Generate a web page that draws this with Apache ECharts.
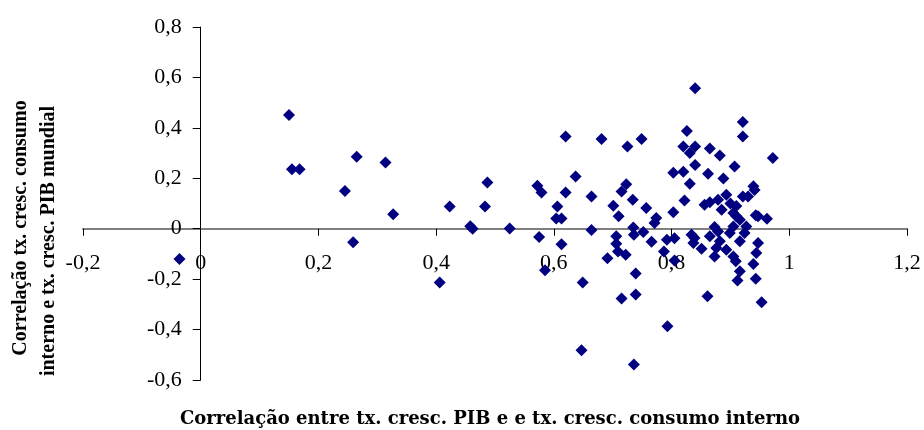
<!DOCTYPE html>
<html>
<head>
<meta charset="utf-8">
<script src="https://cdn.jsdelivr.net/npm/echarts@6/dist/echarts.min.js"></script>
<style>html,body{margin:0;padding:0;background:#fff}#c{width:924px;height:430px}</style>
</head>
<body>
<div id="c"></div>
<script>
// Correlation of GDP growth vs domestic consumption growth (x)
const xValues = [-0.036,0.150,0.155,0.168,0.245,0.265,0.259,0.314,0.327,0.423,0.406,0.458,0.462,0.487,0.483,0.525,0.572,0.579,0.575,0.585,
0.606,0.604,0.613,0.613,0.620,0.620,0.637,0.649,0.647,0.664,0.664,0.681,0.691,0.701,0.710,0.706,0.706,0.709,0.722,0.715,
0.723,0.725,0.734,0.735,0.736,0.752,0.739,0.715,0.739,0.736,0.749,0.757,0.774,0.771,0.766,0.792,0.805,0.787,0.805,0.793,
0.803,0.803,0.820,0.822,0.826,0.820,0.840,0.831,0.840,0.840,0.831,0.834,0.837,0.851,0.839,0.861,0.865,0.882,0.862,0.888,
0.907,0.921,0.921,0.972,0.939,0.941,0.930,0.856,0.879,0.893,0.921,0.885,0.905,0.910,0.916,0.927,0.905,0.873,0.865,0.879,
0.899,0.924,0.876,0.893,0.916,0.882,0.873,0.905,0.944,0.947,0.943,0.962,0.947,0.909,0.916,0.912,0.939,0.943,0.953,0.865,
0.900,0.910];
// Correlation of domestic consumption growth vs world GDP growth (y)
const yValues = [-0.120,0.451,0.236,0.236,0.150,0.285,-0.054,0.263,0.057,0.088,-0.213,0.010,0.000,0.183,0.088,0.001,0.170,0.144,-0.033,-0.165,
0.088,0.041,0.041,-0.062,0.144,0.366,0.207,-0.213,-0.482,0.128,-0.005,0.356,-0.117,0.091,0.049,-0.030,-0.060,-0.090,-0.103,0.148,
0.176,0.326,0.115,0.005,-0.024,-0.013,-0.178,-0.277,-0.261,-0.539,0.356,0.082,0.042,0.023,-0.052,-0.044,-0.038,-0.090,-0.126,-0.387,
0.065,0.222,0.226,0.112,0.388,0.326,0.326,0.300,0.557,0.253,0.178,-0.024,-0.057,-0.079,-0.037,-0.268,0.318,0.290,0.218,0.199,
0.247,0.423,0.366,0.280,0.168,0.154,0.128,0.095,0.115,0.135,0.128,0.075,0.062,0.049,0.036,0.009,0.009,0.007,-0.030,-0.011,
-0.017,-0.017,-0.076,-0.083,-0.050,-0.050,-0.110,-0.110,-0.096,-0.057,0.053,0.040,0.049,-0.129,-0.169,-0.205,-0.140,-0.198,-0.292,0.105,
0.100,0.090];
const xTitle = 'Correlação entre tx. cresc. PIB e e tx. cresc. consumo interno';
const yTitleLines = ['Correlação tx. cresc. consumo', 'interno e tx. cresc. PIB mundial'];

const xMin = -0.2, xMax = 1.2, yMin = -0.6, yMax = 0.8, step = 0.2;
const gridLeft = 83, gridRight = 17, gridTop = 27, gridBottom = 50;
const W = 924, H = 430;
const gridW = W - gridLeft - gridRight, gridH = H - gridTop - gridBottom;

const points = xValues.map((x, i) => [x, yValues[i]]);
const fmt = v => (Math.abs(v) < 1e-9 ? '0' : String(Math.round(v * 10) / 10).replace('.', ','));
const labelFont = 'Liberation Serif';

const chart = echarts.init(document.getElementById('c'), null, {renderer: 'canvas'});
chart.setOption({
  animation: false,
  backgroundColor: '#ffffff',
  grid: {left: gridLeft, right: gridRight, top: gridTop, bottom: gridBottom, containLabel: false},
  xAxis: {
    type: 'value', min: xMin, max: xMax, interval: step, position: 'bottom',
    offset: -gridH * (0 - yMin) / (yMax - yMin),
    axisLine: {onZero: false, lineStyle: {color: '#808080', width: 2}},
    axisTick: {show: true, inside: false, length: 7, lineStyle: {color: '#000', width: 1}},
    axisLabel: {margin: 24, color: '#000', fontFamily: labelFont, fontSize: 22, formatter: fmt},
    splitLine: {show: false}
  },
  yAxis: {
    type: 'value', min: yMin, max: yMax, interval: step, position: 'left',
    offset: -gridW * (0 - xMin) / (xMax - xMin),
    axisLine: {onZero: false, lineStyle: {color: '#000', width: 1}},
    axisTick: {show: true, inside: false, length: 8, lineStyle: {color: '#000', width: 1}},
    axisLabel: {margin: 19, color: '#000', fontFamily: labelFont, fontSize: 22, formatter: fmt},
    splitLine: {show: false}
  },
  series: [{
    type: 'scatter',
    data: points,
    symbol: 'diamond',
    symbolSize: 12,
    itemStyle: {color: '#000080', opacity: 1}
  }],
  graphic: [
    {type: 'text', x: 490, y: 419, style: {text: xTitle, font: 'bold 18px "DejaVu Serif"', fill: '#000', textAlign: 'center', textVerticalAlign: 'middle'}},
    {type: 'text', x: 21, y: 228, rotation: Math.PI / 2, style: {text: yTitleLines[0], font: 'bold 20px "Liberation Serif"', fill: '#000', textAlign: 'center', textVerticalAlign: 'middle'}},
    {type: 'text', x: 49, y: 241, rotation: Math.PI / 2, style: {text: yTitleLines[1], font: 'bold 20px "Liberation Serif"', fill: '#000', textAlign: 'center', textVerticalAlign: 'middle'}}
  ]
});
</script>
</body>
</html>
